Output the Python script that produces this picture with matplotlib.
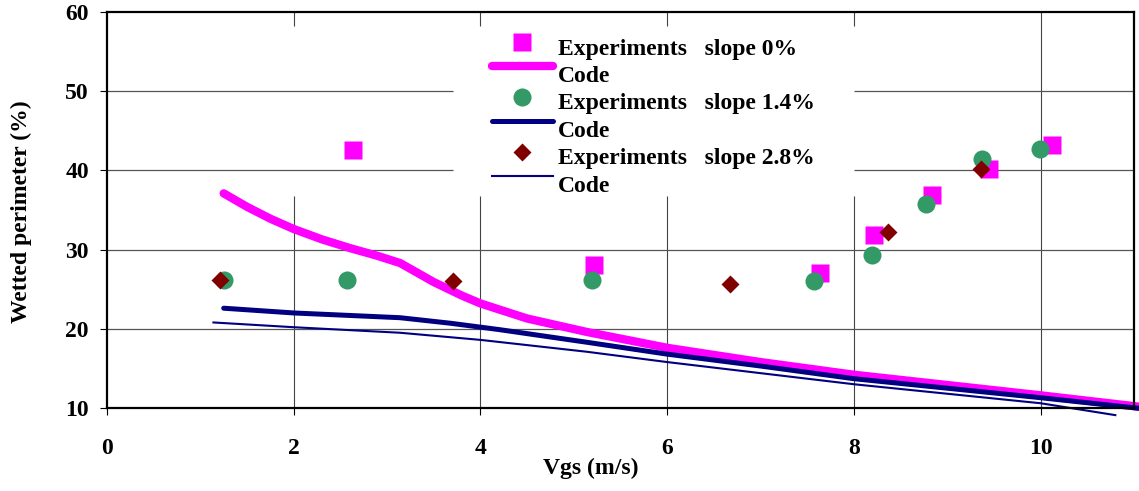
import matplotlib
matplotlib.use("Agg")
import matplotlib.pyplot as plt
import matplotlib.transforms as mtransforms
from matplotlib.legend_handler import HandlerLine2D

# Experimental points
exp0_x = [2.64, 5.22, 7.64, 8.22, 8.84, 9.45, 10.12]
exp0_y = [42.6, 28.1, 27.0, 31.9, 36.95, 40.2, 43.25]

exp14_x = [1.25, 2.57, 5.2, 7.57, 8.19, 8.77, 9.37, 9.99]
exp14_y = [26.1, 26.2, 26.2, 26.0, 29.3, 35.7, 41.4, 42.7]

exp28_x = [1.21, 3.71, 6.67, 8.36, 9.36]
exp28_y = [26.2, 26.0, 25.6, 32.2, 40.2]

# Code curves
code0_x = [1.25, 1.5, 1.75, 2.0, 2.3, 2.6, 2.9, 3.14, 3.5, 3.8, 4.0, 4.5, 5.14, 6.0, 7.0, 8.0, 9.0, 10.0, 11.1]
code0_y = [37.1, 35.4, 33.9, 32.6, 31.3, 30.2, 29.2, 28.3, 25.9, 24.2, 23.2, 21.3, 19.6, 17.6, 15.8, 14.2, 12.9, 11.6, 10.1]

code14_x = [1.25, 2.0, 3.14, 3.68, 4.2, 5.14, 6.0, 7.0, 8.0, 9.0, 10.0, 11.1]
code14_y = [22.6, 22.0, 21.4, 20.7, 19.9, 18.3, 16.8, 15.3, 13.7, 12.5, 11.3, 9.9]

code28_x = [1.14, 2.0, 3.14, 4.0, 5.14, 6.0, 7.0, 8.0, 9.0, 10.0, 10.8]
code28_y = [20.8, 20.2, 19.5, 18.6, 17.1, 15.8, 14.4, 13.0, 11.8, 10.6, 9.1]

etiquetas = ["Experiments   slope 0%", "Code",
             "Experiments   slope 1.4%", "Code",
             "Experiments   slope 2.8%", "Code"]

ROSA = "#FF00FF"
VERDE = "#339966"
GRANATE = "#800000"
MARINO = "#000080"

plt.rcParams["font.family"] = ["Liberation Serif", "DejaVu Serif"]
plt.rcParams["font.weight"] = "bold"
fs = 17


class HandlerSubido(HandlerLine2D):
    # sube el simbolo de la leyenda respecto al texto (estilo Excel)
    def __init__(self, subida, **kw):
        super().__init__(**kw)
        self.subida = subida

    def create_artists(self, legend, orig_handle, xdescent, ydescent,
                       width, height, fontsize, trans):
        artistas = super().create_artists(legend, orig_handle, xdescent, ydescent,
                                          width, height, fontsize, trans)
        for a in artistas:
            a.set_transform(mtransforms.Affine2D().translate(0, self.subida) + trans)
        return artistas


fig = plt.figure(figsize=(11.39, 4.91), dpi=100)
ax = fig.add_axes([107 / 1139, 1 - 408 / 491, (1134 - 107) / 1139, (408 - 12) / 491])

ax.set_xlim(0, 11)
ax.set_ylim(10, 60)

# rejilla (con el hueco que deja la leyenda)
gcol = "#444444"
for xv in [2, 4, 6, 8]:
    ax.vlines(xv, 10, 36.8, color=gcol, lw=0.8, zorder=1)
    ax.vlines(xv, 58.2, 60, color=gcol, lw=0.8, zorder=1)
ax.vlines(10, 10, 60, color=gcol, lw=0.8, zorder=1)
for yv in [20, 30]:
    ax.hlines(yv, 0, 11, color="#555555", lw=0.9, zorder=1)
for yv in [40, 50]:
    ax.hlines(yv, 0, 3.71, color="#555555", lw=0.9, zorder=1)
    ax.hlines(yv, 8.0, 11, color="#555555", lw=0.9, zorder=1)

h1, = ax.plot(exp0_x, exp0_y, "s", color=ROSA, ms=13, mec="none", ls="none", zorder=3)
h2, = ax.plot(code0_x, code0_y, "-", color=ROSA, lw=6, solid_capstyle="round",
              solid_joinstyle="round", clip_on=False, zorder=4)
h3, = ax.plot(exp14_x, exp14_y, "o", color=VERDE, ms=13, mec="none", ls="none", zorder=5)
h4, = ax.plot(code14_x, code14_y, "-", color=MARINO, lw=3.6, solid_capstyle="round",
              solid_joinstyle="round", clip_on=False, zorder=6)
h5, = ax.plot(exp28_x, exp28_y, "D", color=GRANATE, ms=9.2, mec="none", ls="none", zorder=7)
h6, = ax.plot(code28_x, code28_y, "-", color=MARINO, lw=1.5, clip_on=False, zorder=8)

for s in ax.spines.values():
    s.set_linewidth(1.6)
    s.set_zorder(10)

ax.set_xticks([0, 2, 4, 6, 8, 10])
ax.set_yticks([10, 20, 30, 40, 50, 60])
ax.tick_params(axis="x", direction="out", length=5, width=0.8, pad=16.5, labelsize=fs)
ax.tick_params(axis="y", direction="out", length=5, width=0.8, pad=8, labelsize=fs)
for t in ax.get_xticklabels() + ax.get_yticklabels():
    t.set_fontweight("bold")

ax.set_xlabel("Vgs (m/s)", fontsize=fs, fontweight="bold")
ax.set_ylabel("Wetted perimeter (%)", fontsize=fs, fontweight="bold")
ax.xaxis.set_label_coords(0.471, -0.125)
ax.yaxis.set_label_coords(-0.073, 0.495)

mapa = {h1: HandlerSubido(3.0), h3: HandlerSubido(3.0), h5: HandlerSubido(3.0),
        h2: HandlerSubido(5.5), h4: HandlerSubido(5.5), h6: HandlerSubido(5.5)}
leg = ax.legend([h1, h2, h3, h4, h5, h6], etiquetas, handler_map=mapa,
                loc="upper left", bbox_to_anchor=((492 - 107) / 1027, 1 - 26 / 396),
                frameon=False, fontsize=fs, handlelength=2.58, handletextpad=0.2,
                labelspacing=0.25, borderpad=0, borderaxespad=0,
                prop={"size": fs, "weight": "bold"})
leg.set_zorder(12)

fig.savefig("out.png", dpi=100)
